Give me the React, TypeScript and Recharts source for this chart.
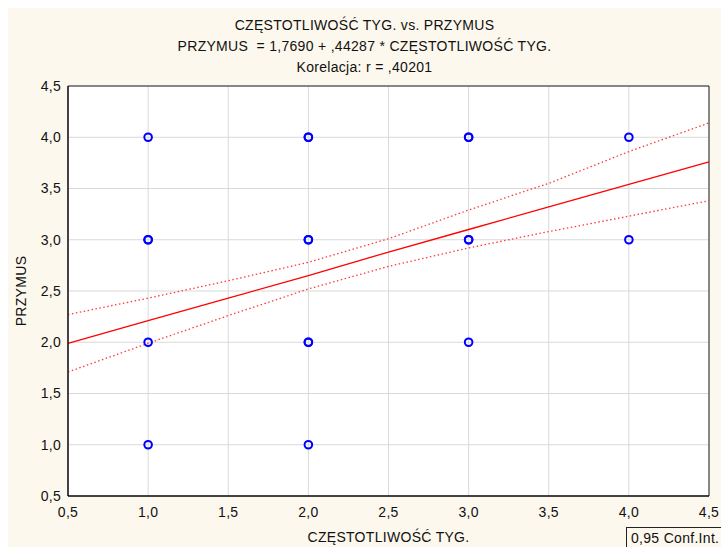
import React from 'react';
import {
  ComposedChart,
  Line,
  Scatter,
  XAxis,
  YAxis,
  CartesianGrid,
  ReferenceArea,
} from 'recharts';

// observed pairs (duplicates = overlapping cases)
const pointX = [1, 1, 1, 1, 1, 2, 2, 2, 2, 2, 2, 2, 3, 3, 3, 3, 3, 4, 4];
const pointY = [4, 3, 3, 2, 1, 4, 4, 3, 3, 2, 2, 1, 4, 4, 3, 3, 2, 4, 3];

// regression line and 0.95 confidence band
const bandX = [0.5, 1.0, 1.5, 2.0, 2.5, 3.0, 3.5, 4.0, 4.5];
const fitY = [1.99, 2.21, 2.43, 2.65, 2.88, 3.1, 3.32, 3.54, 3.76];
const upperY = [2.27, 2.43, 2.6, 2.78, 3.01, 3.29, 3.55, 3.86, 4.14];
const lowerY = [1.71, 1.99, 2.26, 2.52, 2.74, 2.92, 3.08, 3.23, 3.38];

const ticks = [0.5, 1.0, 1.5, 2.0, 2.5, 3.0, 3.5, 4.0, 4.5];

const titleLines = [
  'CZĘSTOTLIWOŚĆ TYG. vs. PRZYMUS',
  'PRZYMUS  = 1,7690 + ,44287 * CZĘSTOTLIWOŚĆ TYG.',
  'Korelacja: r = ,40201',
];

const points = pointX.map((x, i) => ({ x, y: pointY[i] }));
const band = bandX.map((x, i) => ({ x, fit: fitY[i], upper: upperY[i], lower: lowerY[i] }));

const fmt = (v: number) => v.toFixed(1).replace('.', ',');
const font = '"Liberation Sans", Arial, sans-serif';
const textStyle = { fill: '#111', fontSize: 14, letterSpacing: 0.3 };

const Ring = (props: any) => (
  <circle cx={props.cx} cy={props.cy} r={3.8} fill="none" stroke="#0000ff" strokeWidth={2} />
);

export default function App() {
  return (
    <div style={{ position: 'absolute', left: 0, top: 0, width: 721, height: 547, overflow: 'hidden', background: '#fff' }}>
      <style>{'body{margin:0;overflow:hidden}'}</style>
      <div style={{ position: 'absolute', left: 8, top: 8, width: 713, height: 539, background: '#fdf8ed', fontFamily: font }}>
        {titleLines.map((t, i) => (
          <div
            key={i}
            style={{ position: 'absolute', left: 0, width: 713, top: 10 + i * 21, textAlign: 'center', fontSize: 14, letterSpacing: 0.3, color: '#111', lineHeight: '15px', whiteSpace: 'pre' }}
          >
            {t}
          </div>
        ))}
        <ComposedChart
          width={713}
          height={539}
          data={band}
          margin={{ top: 78, right: 12, bottom: 0, left: 0 }}
          style={{ fontFamily: font }}
        >
          <CartesianGrid stroke="#d9d9d9" fill="#ffffff" />
          <XAxis
            dataKey="x"
            type="number"
            domain={[0.5, 4.5]}
            ticks={ticks}
            tickFormatter={fmt}
            height={51}
            tickSize={0}
            tickMargin={11}
            axisLine={{ stroke: '#000' }}
            tick={textStyle}
            label={{ value: 'CZĘSTOTLIWOŚĆ TYG.', position: 'insideBottom', offset: 5, ...textStyle }}
          />
          <YAxis
            type="number"
            domain={[0.5, 4.5]}
            ticks={ticks}
            tickFormatter={fmt}
            width={60}
            tickSize={0}
            tickMargin={7}
            axisLine={{ stroke: '#000' }}
            tick={textStyle}
            label={{ value: 'PRZYMUS', angle: -90, position: 'insideLeft', offset: 13, ...textStyle, style: { textAnchor: 'middle' } }}
          />
          <YAxis
            yAxisId="right"
            orientation="right"
            type="number"
            domain={[0.5, 4.5]}
            ticks={ticks}
            width={0}
            tick={false}
            tickSize={3}
            axisLine={{ stroke: '#333', strokeWidth: 2 }}
            tickLine={{ stroke: '#000' }}
          />
          <ReferenceArea x1={0.5} x2={4.5} y1={0.5} y2={4.5} fill="none" stroke="#222" strokeWidth={1} />
          <Line dataKey="upper" stroke="#ff3a3a" strokeWidth={1.3} strokeDasharray="1.5 2.5" dot={false} isAnimationActive={false} />
          <Line dataKey="lower" stroke="#ff3a3a" strokeWidth={1.3} strokeDasharray="1.5 2.5" dot={false} isAnimationActive={false} />
          <Line dataKey="fit" stroke="#ff0000" strokeWidth={1.3} dot={false} isAnimationActive={false} />
          <Scatter data={points} dataKey="y" shape={<Ring />} isAnimationActive={false} />
        </ComposedChart>
        <div
          style={{ position: 'absolute', left: 618, top: 519, width: 110, height: 30, border: '1px solid #222', boxSizing: 'border-box', fontSize: 14, letterSpacing: 0.3, color: '#111', padding: '2px 0 0 4px', lineHeight: '16px' }}
        >
          0,95 Conf.Int.
        </div>
      </div>
    </div>
  );
}
